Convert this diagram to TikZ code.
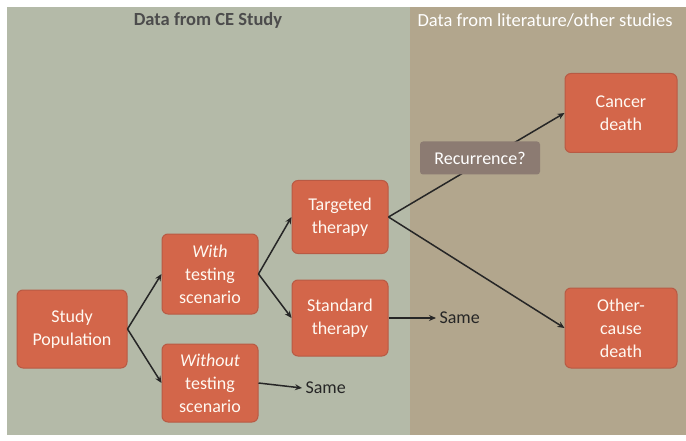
\documentclass[tikz,border=0pt]{standalone}
\usepackage{fontspec}
\setmainfont{Carlito}
\usetikzlibrary{arrows.meta}
\definecolor{leftbg}{HTML}{B4BAA8}
\definecolor{rightbg}{HTML}{B2A68D}
\definecolor{boxfill}{HTML}{D3664A}
\definecolor{boxedge}{HTML}{B85A44}
\definecolor{recfill}{HTML}{8C7B72}
\definecolor{linecol}{HTML}{262626}
\tikzset{
  box/.style={rectangle, rounded corners=6pt, fill=boxfill, draw=boxedge, line width=1pt,
    text=white!95!orange, align=center, font=\fontsize{18}{23}\selectfont, inner sep=2pt},
  recbox/.style={rectangle, rounded corners=3pt, fill=recfill, text=white, align=center,
    font=\fontsize{18}{22}\selectfont, minimum width=120pt, minimum height=33pt, inner sep=2pt},
  conn/.style={draw=linecol, line width=1.5pt, -{Stealth[length=7pt,width=6pt]}},
  plain/.style={font=\fontsize{18}{22}\selectfont, text=black!85}
}
\begin{document}
\begin{tikzpicture}[x=1pt,y=-1pt]
\useasboundingbox (0,0) rectangle (686,441);
\fill[white] (0,0) rectangle (686,441);
\fill[leftbg] (7,7) rectangle (410,435);
\fill[rightbg] (410,7) rectangle (686,435);
\node[font=\bfseries\fontsize{18.5}{22}\selectfont, text=black!70] (h1) at (208,20) {Data from CE Study};
\node[font=\fontsize{18.5}{22}\selectfont, text=white, anchor=west] (h2) at (414,20) {Data from literature/other studies};

\node[box, minimum width=110pt, minimum height=78pt] (sp) at (72,329) {Study\\Population};
\node[box, minimum width=96pt, minimum height=80pt] (with) at (210,274) {\textit{With}\\testing\\scenario};
\node[box, minimum width=96pt, minimum height=78pt] (without) at (210,383) {\textit{Without}\\testing\\scenario};
\node[box, minimum width=96pt, minimum height=73pt] (tt) at (340,217) {Targeted\\therapy};
\node[box, minimum width=96pt, minimum height=76pt] (st) at (340,318) {Standard\\therapy};
\node[box, minimum width=112pt, minimum height=79pt] (cd) at (621,113) {Cancer\\death};
\node[box, minimum width=112pt, minimum height=80pt] (oc) at (621,328) {Other-\\cause\\death};

\node[plain, anchor=west] (same1) at (302,388) {Same};
\node[plain, anchor=west] (same2) at (436,318) {Same};

\draw[conn] (sp.east) -- (with.west);
\draw[conn] (sp.east) -- (without.west);
\draw[conn] (with.east) -- (tt.west);
\draw[conn] (with.east) -- (st.west);
\draw[conn] (without.east) -- (same1.west);
\draw[conn] (st.east) -- (same2.west);
\draw[conn] (tt.east) -- (cd.west);
\draw[conn] (tt.east) -- (oc.west);

\node[recbox] (rec) at (480,158) {Recurrence?};
\end{tikzpicture}
\end{document}
